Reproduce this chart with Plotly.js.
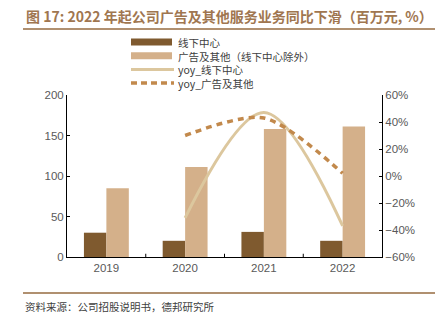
<!DOCTYPE html>
<html><head><meta charset="utf-8">
<script src="https://cdn.plot.ly/plotly-3.0.1.min.js"></script>
<style>html,body{margin:0;padding:0;background:#fff}#c{width:443px;height:329px}</style>
</head><body><div id="c"></div>
<script>
const years = ['2019','2020','2021','2022'];
const offline = [30, 20, 31, 20];
const adOther = [85, 111, 158, 161];
const yoyYears = ['2020','2021','2022'];
const yoyOffline = [-31, 47, -37];
const yoyAd = [30, 43, 2];
const names = ['线下中心','广告及其他（线下中心除外）','yoy_线下中心','yoy_广告及其他'];
const colors = ['#7f5a2f','#d4b08a','#dcc79e','#c2894c'];
const FONT = '"Liberation Sans", Arial, "Noto Sans CJK SC", sans-serif';
const CJK = '"Noto Sans CJK SC", sans-serif';

const traces = [
  {type:'bar', x:years, y:offline, name:names[0], marker:{color:colors[0]}, showlegend:false},
  {type:'bar', x:years, y:adOther, name:names[1], marker:{color:colors[1]}, showlegend:false},
  {type:'scatter', mode:'lines', x:yoyYears, y:yoyOffline, yaxis:'y2', name:names[2],
   line:{color:colors[2], width:3, shape:'spline', smoothing:1}, showlegend:false},
  {type:'scatter', mode:'lines', x:yoyYears, y:yoyAd, yaxis:'y2', name:names[3],
   line:{color:colors[3], width:3.5, dash:'6px,5px', shape:'spline', smoothing:0.8}, showlegend:false}
];

const px = x => (x-67)/315, py = y => (257-y)/162;
const shapes = [];
shapes.push({type:'line', xref:'paper', yref:'paper', x0:px(23), x1:px(435), y0:py(29), y1:py(29), line:{color:'#b09070', width:2}});
shapes.push({type:'line', xref:'paper', yref:'paper', x0:px(23), x1:px(435), y0:py(293), y1:py(293), line:{color:'#b09070', width:2}});
const annotations = [];
const legY = [42, 55.7, 69.4, 83.1];
names.forEach((n,i)=>{
  const y = legY[i];
  if (i < 2) {
    shapes.push({type:'rect', xref:'paper', yref:'paper', x0:px(131), x1:px(172), y0:py(y+3.5), y1:py(y-3.5), fillcolor:colors[i], line:{width:0}});
  } else if (i === 2) {
    shapes.push({type:'line', xref:'paper', yref:'paper', x0:px(131), x1:px(174), y0:py(y), y1:py(y), line:{color:colors[i], width:3}});
  } else {
    shapes.push({type:'line', xref:'paper', yref:'paper', x0:px(131), x1:px(174), y0:py(y), y1:py(y), line:{color:colors[i], width:3.5, dash:'6px,4px'}});
  }
});
annotations.push({xref:'paper', yref:'paper', x:px(176), y:py((legY[0]+legY[3])/2), xanchor:'left', yanchor:'middle', showarrow:false,
  align:'left', text:names.join('<br>'), font:{family:CJK, size:10.5, color:'#404040'}});
annotations.push({xref:'paper', yref:'paper', x:px(24), y:py(16), xanchor:'left', yanchor:'middle', showarrow:false,
  text:'<b>图 17: 2022 年起公司广告及其他服务业务同比下滑（百万元, %）</b>', font:{family:CJK, size:14, color:'#a07650'}});
annotations.push({xref:'paper', yref:'paper', x:px(23), y:py(306), xanchor:'left', yanchor:'middle', showarrow:false,
  text:'资料来源：公司招股说明书，德邦研究所', font:{family:CJK, size:10.5, color:'#404040'}});

const layout = {
  width:443, height:329, margin:{l:67, r:61, t:95, b:72},
  paper_bgcolor:'#fff', plot_bgcolor:'#fff',
  barmode:'group', bargap:0.43, bargroupgap:0,
  showlegend:false,
  font:{family:FONT, size:11, color:'#595959'},
  xaxis:{type:'category', showline:true, linecolor:'#000', linewidth:1, ticks:'', showgrid:false,
    tickfont:{size:11.5, color:'#595959'}},
  yaxis:{range:[0,200], dtick:50, showline:true, linecolor:'#000', linewidth:1, ticks:'inside', ticklen:3,
    tickcolor:'#000', showgrid:false, zeroline:false, tickfont:{size:11.5, color:'#595959'}},
  yaxis2:{range:[-60,60], dtick:20, overlaying:'y', side:'right', showline:true, linecolor:'#000', linewidth:1,
    ticks:'inside', ticklen:3, tickcolor:'#000', showgrid:false, zeroline:false, ticksuffix:'%',
    tickfont:{size:11.5, color:'#595959'}},
  shapes:shapes, annotations:annotations
};
[0.5,1.5,2.5].forEach(b=>shapes.push({type:'line', xref:'x', yref:'paper', x0:b, x1:b, y0:0, y1:0.02, line:{color:'#000', width:1}}));

Plotly.newPlot('c', traces, layout, {staticPlot:true, displayModeBar:false});
</script></body></html>
